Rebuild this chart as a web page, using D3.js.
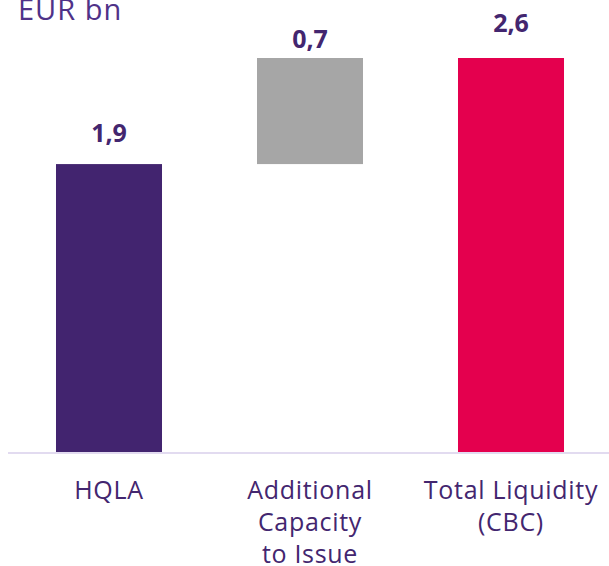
<!DOCTYPE html>
<html>
<head>
<meta charset="utf-8">
<script src="https://cdn.jsdelivr.net/npm/d3@7"></script>
<style>
  body { margin: 0; background: #fff; }
  svg { display: block; }
  .cat { font-family: "Open Sans", sans-serif; font-size: 25px; letter-spacing: 0.7px; fill: #43266f; }
  .val { font-family: "Open Sans", sans-serif; font-size: 25px; font-weight: 700; fill: #43266f; }
  .unit { font-family: "Open Sans", sans-serif; font-size: 29px; letter-spacing: 1px; fill: #4f3288; }
</style>
</head>
<body>
<svg width="609" height="566"></svg>
<script>
// data
var categories = ["HQLA", "Additional Capacity to Issue", "Total Liquidity (CBC)"];
var labelLines = [["HQLA"], ["Additional", "Capacity", "to Issue"], ["Total Liquidity", "(CBC)"]];
var values = [1.9, 0.7, 2.6];
var kinds = ["start", "step", "total"];
var unitLabel = "EUR bn";

var colors = { start: "#42246f", step: "#a6a6a6", total: "#e4004e" };
var labelGap = [22, 10, 26];

var svg = d3.select("svg");

// running sum for the waterfall
var running = 0;
var data = categories.map(function(c, i) {
    var d = { cat: c, value: values[i], kind: kinds[i], lines: labelLines[i] };
    if (kinds[i] === "total") { d.y0 = 0; d.y1 = values[i]; running = values[i]; }
    else { d.y0 = running; d.y1 = running + values[i]; running = d.y1; }
    return d;
});

var x = d3.scaleBand()
    .domain(categories)
    .range([8.5, 611.5])
    .paddingInner(0.4726)
    .paddingOuter(0.2363);

var y = d3.scaleLinear().domain([0, 2.6]).range([452, 58]);

var fmt = function(v) { return d3.format(".1f")(v).replace(".", ","); };

// bars
svg.selectAll("rect.bar")
    .data(data)
  .enter().append("rect")
    .attr("class", "bar")
    .attr("x", function(d) { return x(d.cat); })
    .attr("width", x.bandwidth())
    .attr("y", function(d) { return y(d.y1); })
    .attr("height", function(d) { return y(d.y0) - y(d.y1); })
    .style("fill", function(d) { return colors[d.kind]; });

// baseline
svg.append("line")
    .attr("x1", 8).attr("x2", 609)
    .attr("y1", y(0) + 1).attr("y2", y(0) + 1)
    .style("stroke", "#e2dbf0")
    .style("stroke-width", 2);

// value labels
svg.selectAll("text.val")
    .data(data)
  .enter().append("text")
    .attr("class", "val")
    .attr("x", function(d) { return x(d.cat) + x.bandwidth() / 2; })
    .attr("y", function(d, i) { return y(d.y1) - labelGap[i]; })
    .attr("text-anchor", "middle")
    .text(function(d) { return fmt(d.value); });

// category labels
var cat = svg.selectAll("text.cat")
    .data(data)
  .enter().append("text")
    .attr("class", "cat")
    .attr("text-anchor", "middle")
    .attr("x", function(d) { return x(d.cat) + x.bandwidth() / 2; })
    .attr("y", 499);

cat.selectAll("tspan")
    .data(function(d) { return d.lines.map(function(l) { return { t: l, cx: x(d.cat) + x.bandwidth() / 2 }; }); })
  .enter().append("tspan")
    .attr("x", function(l) { return l.cx; })
    .attr("dy", function(l, j) { return j === 0 ? 0 : 32; })
    .text(function(l) { return l.t; });

// unit label, cut at the top like the original
svg.append("text")
    .attr("class", "unit")
    .attr("x", 18)
    .attr("y", 20)
    .text(unitLabel);
</script>
</body>
</html>
